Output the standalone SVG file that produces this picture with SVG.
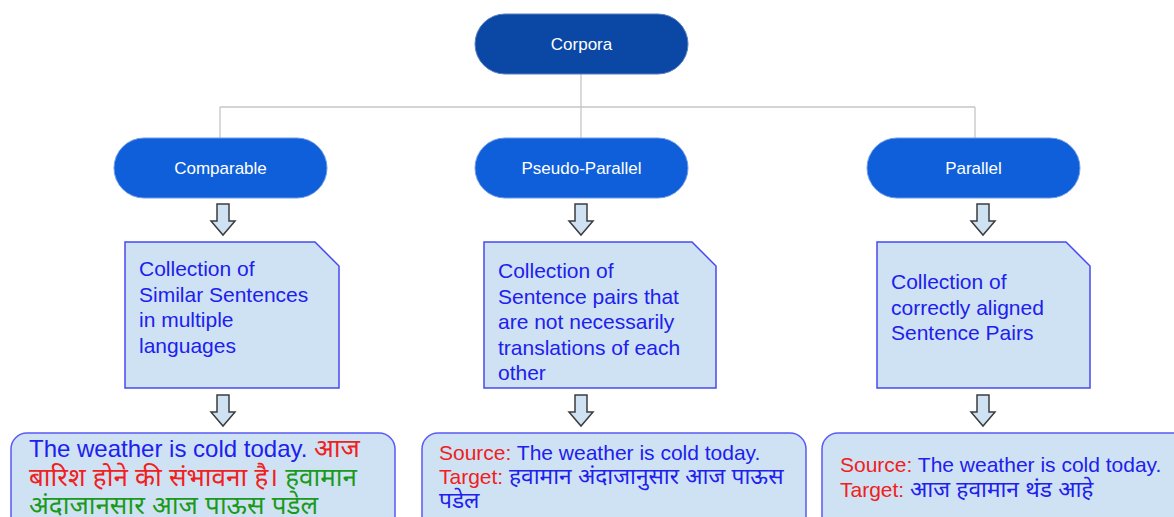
<svg xmlns="http://www.w3.org/2000/svg" width="1174" height="517" viewBox="0 0 1174 517">
<style>
text{font-family:"Liberation Sans","Noto Sans",Arial,sans-serif}
.top{fill:#0b47a5;stroke:#5a7fc0;stroke-width:1}
.cat{fill:#0f5fdb;stroke:#6f9be6;stroke-width:1}
.lbl{fill:#ffffff;font-size:17px;text-anchor:middle}
.conn{stroke:#c6c6c6;stroke-width:1.3;fill:none}
.barrow{fill:#cfe2f3;stroke:#3c3c3c;stroke-width:1.5;stroke-linejoin:miter}
.doc{fill:#cfe2f3;stroke:#4a4af0;stroke-width:1.5}
.dt{fill:#2020ee;font-size:21px}
.ex{fill:#cfe2f3;stroke:#5a5af5;stroke-width:1.5}
.b{fill:#2020ee}.r{fill:#f02020}.g{fill:#1a9a1a}
.hi{font-size:26px}.hs{font-size:22.7px}
</style>
<defs>
<path id="ba" d="M-6,0 H6 V17 H12 L0,31 L-12,17 H-6 Z"/>
</defs>
<g id="connectors">
<path class="conn" d="M581,74 V107 M220,107 H975 M220,107 V138 M581,107 V138 M975,107 V138"/>
<use href="#ba" class="barrow" x="223" y="204"/>
<use href="#ba" class="barrow" x="581" y="204"/>
<use href="#ba" class="barrow" x="983" y="204"/>
<use href="#ba" class="barrow" x="223" y="395"/>
<use href="#ba" class="barrow" x="581" y="395"/>
<use href="#ba" class="barrow" x="983" y="395"/>
</g>
<g id="corpora">
<rect class="top" x="475" y="14" width="213" height="60" rx="30"/>
<text class="lbl" x="581.5" y="50">Corpora</text>
</g>
<g id="comparable">
<rect class="cat" x="114" y="138" width="213" height="60" rx="30"/>
<text class="lbl" x="220.5" y="174">Comparable</text>
</g>
<g id="pseudo-parallel">
<rect class="cat" x="475" y="138" width="213" height="60" rx="30"/>
<text class="lbl" x="581.5" y="174">Pseudo-Parallel</text>
</g>
<g id="parallel">
<rect class="cat" x="867" y="138" width="213" height="60" rx="30"/>
<text class="lbl" x="973.5" y="174">Parallel</text>
</g>
<g id="comparable-desc">
<path class="doc" d="M125,242 H315 L339,266 V388 H125 Z"/>
<text class="dt" x="139" y="276">Collection of</text>
<text class="dt" x="139" y="301.5">Similar Sentences</text>
<text class="dt" x="139" y="327">in multiple</text>
<text class="dt" x="139" y="352.5">languages</text>
</g>
<g id="pseudo-desc">
<path class="doc" d="M484,242 H692 L716,266 V388 H484 Z"/>
<text class="dt" x="498" y="278">Collection of</text>
<text class="dt" x="498" y="303.5">Sentence pairs that</text>
<text class="dt" x="498" y="329">are not necessarily</text>
<text class="dt" x="498" y="354.5">translations of each</text>
<text class="dt" x="498" y="380">other</text>
</g>
<g id="parallel-desc">
<path class="doc" d="M877,242 H1066 L1090,266 V388 H877 Z"/>
<text class="dt" x="891" y="289">Collection of</text>
<text class="dt" x="891" y="314.5">correctly aligned</text>
<text class="dt" x="891" y="340">Sentence Pairs</text>
</g>
<g id="comparable-example">
<rect class="ex" x="11" y="433" width="384" height="110" rx="16"/>
<text x="29" y="457" font-size="24"><tspan class="b">The weather is cold today. </tspan><tspan class="r hi">आज</tspan></text>
<text x="29" y="486" class="hi"><tspan class="r">बारिश होने की संभावना है। </tspan><tspan class="g">हवामान</tspan></text>
<text x="29" y="514" class="g hi">अंदाजानसार आज पाऊस पडेल</text>
</g>
<g id="pseudo-example">
<rect class="ex" x="422" y="433" width="384" height="110" rx="16"/>
<text x="439" y="460" font-size="21"><tspan class="r">Source: </tspan><tspan class="b">The weather is cold today.</tspan></text>
<text x="439" y="484" font-size="21"><tspan class="r">Target: </tspan><tspan class="b hs">हवामान अंदाजानुसार आज पाऊस</tspan></text>
<text x="439" y="508" class="b hs">पडेल</text>
</g>
<g id="parallel-example">
<rect class="ex" x="822" y="433" width="384" height="110" rx="16"/>
<text x="840" y="472" font-size="21"><tspan class="r">Source: </tspan><tspan class="b">The weather is cold today.</tspan></text>
<text x="840" y="497" font-size="21"><tspan class="r">Target: </tspan><tspan class="b hs">आज हवामान थंड आहे</tspan></text>
</g>
</svg>
